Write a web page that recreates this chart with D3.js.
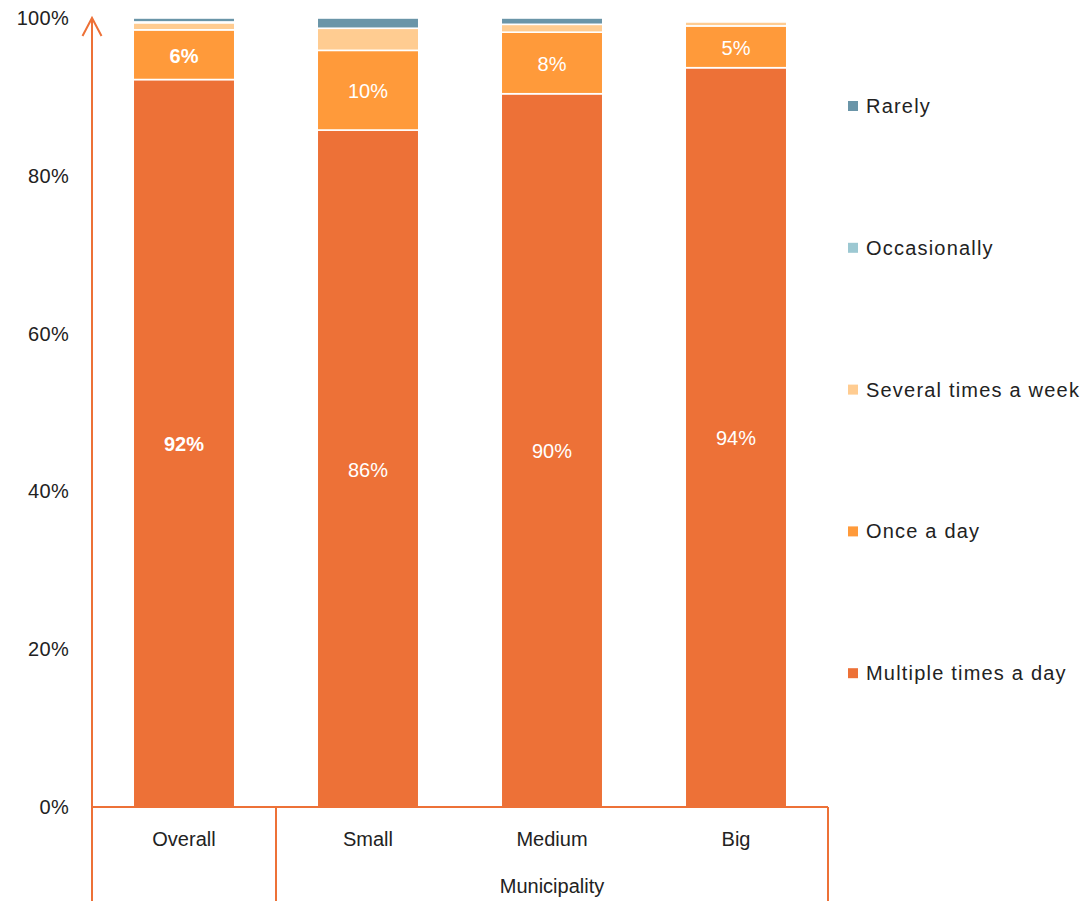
<!DOCTYPE html>
<html>
<head>
<meta charset="utf-8">
<script src="https://cdn.jsdelivr.net/npm/d3@7"></script>
<style>
  html, body { margin: 0; padding: 0; background: #fff; }
  svg { display: block; }
  text { font-family: "Liberation Sans", Arial, sans-serif; }
</style>
</head>
<body>
<svg id="chart" width="1086" height="901"></svg>
<script>
// Categories along the x axis
const categories = ["Overall", "Small", "Medium", "Big"];
const groupLabel = "Municipality";

// Response frequency series (percent of respondents), bottom to top
const seriesNames = ["Multiple times a day", "Once a day", "Several times a week", "Occasionally", "Rarely"];
const multipleTimesADay = [92.2, 85.8, 90.4, 93.7];
const onceADay          = [6.3, 10.1, 7.8, 5.3];
const severalTimesAWeek = [0.9, 2.8, 1.0, 0.5];
const occasionally      = [0.1, 0.0, 0.0, 0.0];
const rarely            = [0.5, 1.3, 0.8, 0.0];

// Y axis tick values
const yTicks = [0, 20, 40, 60, 80, 100];

const colors = {
  "Multiple times a day": "#ED7137",
  "Once a day": "#FF9A3A",
  "Several times a week": "#FFCC91",
  "Occasionally": "#9CC8D2",
  "Rarely": "#6A95A8"
};
const axisColor = "#ED7137";

const seriesValues = [multipleTimesADay, onceADay, severalTimesAWeek, occasionally, rarely];
const rows = categories.map((c, i) => {
  const r = { category: c };
  seriesNames.forEach((s, k) => { r[s] = seriesValues[k][i]; });
  return r;
});

const svg = d3.select("#chart");
const plotLeft = 92, plotRight = 828, plotTop = 18, plotBottom = 807;

const x = d3.scaleBand().domain(categories).range([plotLeft, plotRight])
  .paddingInner(0.448).paddingOuter(0.224);
const y = d3.scaleLinear().domain([0, 100]).range([plotBottom, plotTop]);

const stacked = d3.stack().keys(seriesNames)(rows);

// Stacked bars, separated by thin white borders
const layers = svg.append("g").selectAll("g").data(stacked).join("g")
  .attr("fill", d => colors[d.key]);
layers.selectAll("rect").data(d => d.filter(p => p[1] - p[0] > 0))
  .join("rect")
  .attr("x", d => x(d.data.category))
  .attr("width", x.bandwidth())
  .attr("y", d => y(d[1]))
  .attr("height", d => y(d[0]) - y(d[1]))
  .attr("stroke", "#fff")
  .attr("stroke-width", 1.6);

// Value labels for the two largest series
const labelled = ["Multiple times a day", "Once a day"];
stacked.filter(s => labelled.includes(s.key)).forEach(s => {
  svg.append("g").selectAll("text").data(s).join("text")
    .attr("x", d => x(d.data.category) + x.bandwidth() / 2)
    .attr("y", d => (y(d[0]) + y(d[1])) / 2 + 1)
    .attr("text-anchor", "middle")
    .attr("dominant-baseline", "central")
    .attr("fill", "#fff")
    .attr("font-size", 20)
    .attr("font-weight", d => d.data.category === "Overall" ? "bold" : "normal")
    .text(d => Math.round(d[1] - d[0]) + "%");
});

// Y axis: tick labels only
const yAxis = d3.axisLeft(y).tickValues(yTicks).tickFormat(d => d + "%").tickSize(0).tickPadding(23);
const gy = svg.append("g").attr("transform", `translate(${plotLeft},0)`).call(yAxis);
gy.select(".domain").remove();
gy.selectAll("text").attr("font-size", 20).attr("fill", "#222")
  .attr("letter-spacing", 0.3)
  .attr("font-family", "'Liberation Sans', Arial, sans-serif");

// Y axis line with open arrow head
svg.append("line").attr("x1", plotLeft).attr("x2", plotLeft).attr("y1", plotBottom).attr("y2", plotTop + 1)
  .attr("stroke", axisColor).attr("stroke-width", 2);
svg.append("path")
  .attr("d", `M${plotLeft - 9.5},${plotTop + 18} L${plotLeft},${plotTop} L${plotLeft + 9.5},${plotTop + 18}`)
  .attr("fill", "none").attr("stroke", axisColor).attr("stroke-width", 2);

// X axis baseline
svg.append("line").attr("x1", plotLeft).attr("x2", plotRight).attr("y1", plotBottom).attr("y2", plotBottom)
  .attr("stroke", axisColor).attr("stroke-width", 2);

// Category group dividers
const dividers = [plotLeft, x("Small") - x.step() * x.paddingInner() / 2, plotRight];
svg.append("g").selectAll("line").data(dividers).join("line")
  .attr("x1", d => d).attr("x2", d => d)
  .attr("y1", plotBottom).attr("y2", 901)
  .attr("stroke", axisColor).attr("stroke-width", 2);

// Category labels
svg.append("g").selectAll("text").data(categories).join("text")
  .attr("x", d => x(d) + x.bandwidth() / 2)
  .attr("y", 839)
  .attr("text-anchor", "middle")
  .attr("dominant-baseline", "central")
  .attr("font-size", 20).attr("fill", "#222")
  .text(d => d);

// Group label under the municipality categories
svg.append("text")
  .attr("x", (dividers[1] + plotRight) / 2)
  .attr("y", 886)
  .attr("text-anchor", "middle")
  .attr("dominant-baseline", "central")
  .attr("font-size", 20).attr("fill", "#222")
  .text(groupLabel);

// Legend (top entry is the top of the stack)
const legendItems = seriesNames.slice().reverse();
const legend = svg.append("g").selectAll("g").data(legendItems).join("g")
  .attr("transform", (d, i) => `translate(848, ${106 + i * 141.8})`);
legend.append("rect").attr("x", 0).attr("y", -5).attr("width", 10).attr("height", 10)
  .attr("fill", d => colors[d]);
legend.append("text").attr("x", 18).attr("y", 0)
  .attr("dominant-baseline", "central")
  .attr("font-size", 20).attr("fill", "#222")
  .attr("letter-spacing", 1.2)
  .text(d => d);
</script>
</body>
</html>
